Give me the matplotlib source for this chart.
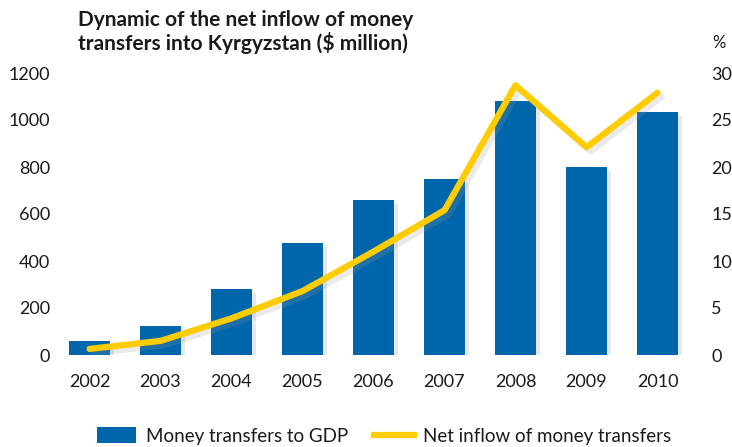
import matplotlib
matplotlib.use("Agg")
import matplotlib.pyplot as plt
import matplotlib.patheffects as pe
from matplotlib.patches import Patch
from matplotlib.lines import Line2D

years = ["2002", "2003", "2004", "2005", "2006", "2007", "2008", "2009", "2010"]
transfers_to_gdp = [60, 123, 281, 477, 660, 749, 1081, 801, 1035]
net_inflow_pct = [0.65, 1.5, 3.9, 6.8, 11.0, 15.4, 28.7, 22.1, 27.9]
left_ticks = [0, 200, 400, 600, 800, 1000, 1200]
right_ticks = [0, 5, 10, 15, 20, 25, 30]

BLUE = "#0066AB"
YELLOW = "#FFCC00"
TXT = "#1a1a1a"
FONT = "Lato"

plt.rcParams["font.family"] = [FONT, "DejaVu Sans"]

fig = plt.figure(figsize=(7.32, 4.47), dpi=100)
ax = fig.add_axes([54 / 732, 92 / 447, (693 - 54) / 732, 282 / 447])
ax2 = ax.twinx()

x = list(range(len(years)))
bars = ax.bar(x, transfers_to_gdp, width=0.58, color=BLUE, zorder=3)
for b in bars:
    b.set_path_effects([pe.SimplePatchShadow(offset=(3, -3), shadow_rgbFace="#999999", alpha=0.22), pe.Normal()])

ax2.plot(x, net_inflow_pct, color=YELLOW, lw=4.5, solid_capstyle="round", solid_joinstyle="round",
         path_effects=[pe.SimpleLineShadow(offset=(3, -3), shadow_color="#999999", alpha=0.2), pe.Normal()])

ax.set_xlim(-0.5, len(years) - 0.5)
ax.set_ylim(0, 1200)
ax2.set_ylim(0, 30)
ax.set_yticks(left_ticks)
ax2.set_yticks(right_ticks)
ax.set_xticks(x)
ax.set_xticklabels(years)

for a in (ax, ax2):
    for s in a.spines.values():
        s.set_visible(False)
    a.tick_params(length=0, labelsize=13, labelcolor=TXT)
ax.tick_params(axis="y", pad=3)
ax.tick_params(axis="x", pad=14)
ax2.tick_params(axis="y", pad=13)
for lab in ax2.get_yticklabels():
    lab.set_horizontalalignment("left")

ax2.set_zorder(ax.get_zorder() + 1)
ax2.patch.set_visible(False)

fig.text(78 / 732, 1 - 32 / 447, "Dynamic of the net inflow of money\ntransfers into Kyrgyzstan ($ million)",
         fontsize=15, fontweight="bold", color=TXT, ha="left", va="center", linespacing=1.1)
fig.text(712 / 732, 1 - 43 / 447, "%", fontsize=12, color=TXT, ha="left", va="center")

handles = [Patch(facecolor=BLUE), Line2D([0], [0], color=YELLOW, lw=4.5)]
fig.legend(handles, ["Money transfers to GDP", "Net inflow of money transfers"],
           loc="center left", bbox_to_anchor=(97 / 732, 11 / 447), ncol=2, frameon=False,
           fontsize=13.5, labelcolor=TXT, handlelength=2.1, handleheight=0.9,
           handletextpad=0.5, columnspacing=1.4, borderpad=0, borderaxespad=0)

fig.savefig("out.png", dpi=100)
